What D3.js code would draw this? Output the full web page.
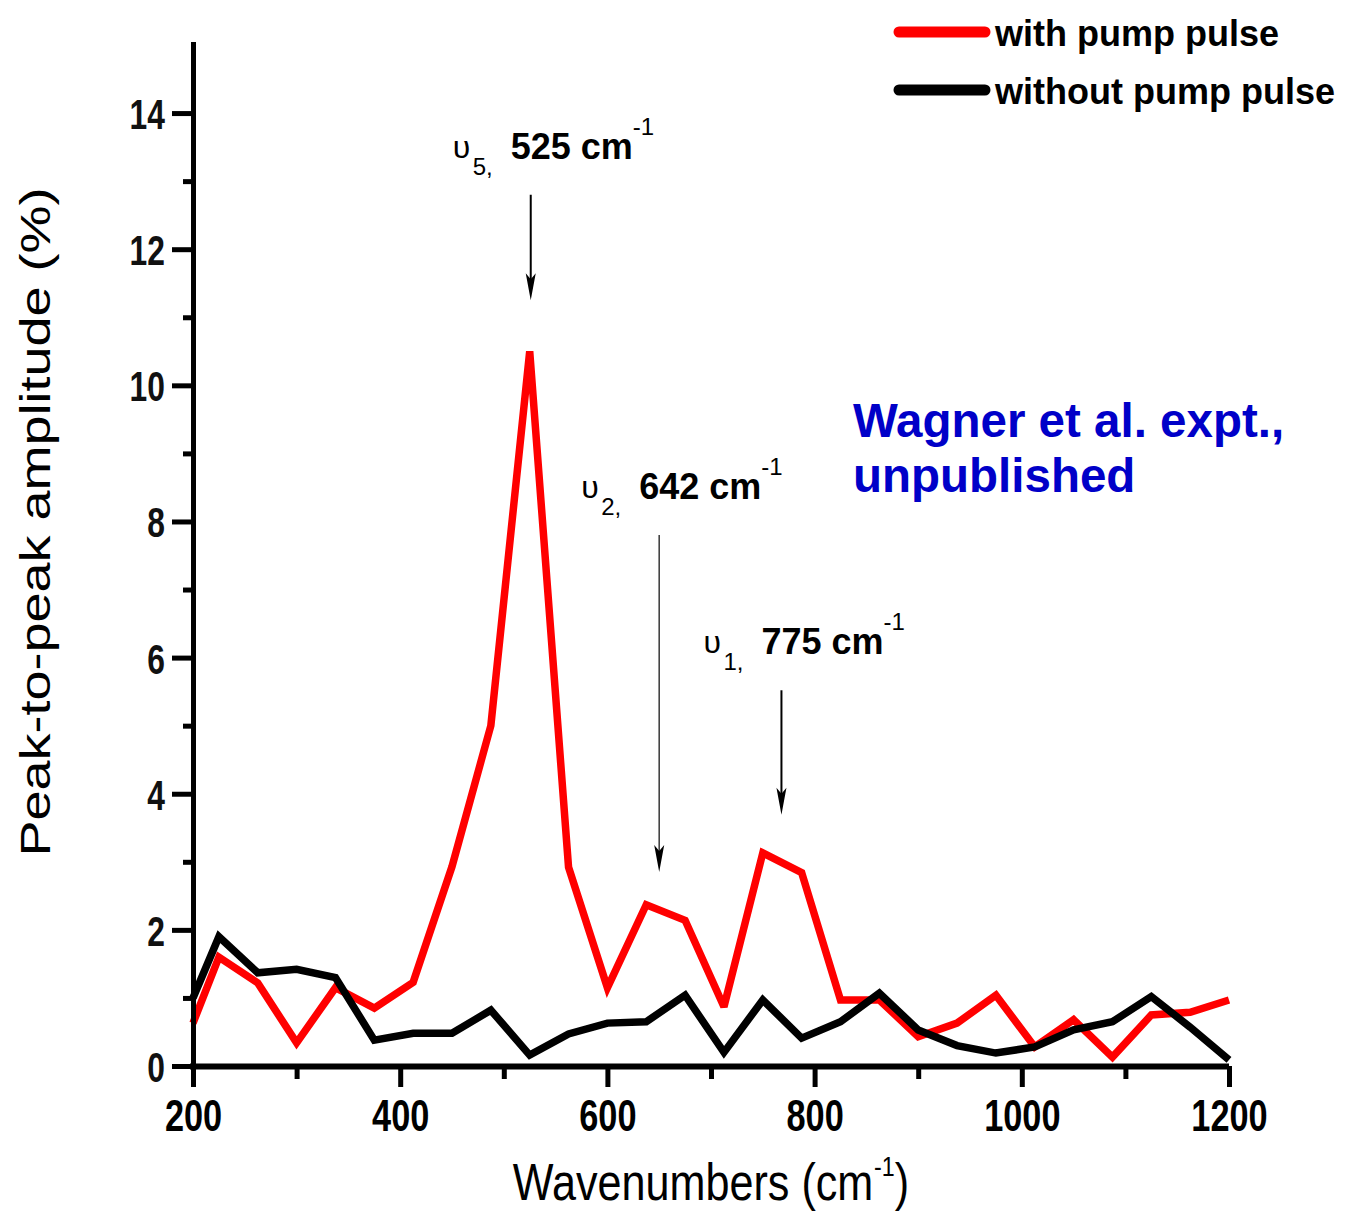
<!DOCTYPE html>
<html>
<head>
<meta charset="utf-8">
<script src="https://cdn.jsdelivr.net/npm/d3@7"></script>
<style>
  html, body { margin: 0; padding: 0; background: #fff; }
  svg { display: block; font-family: "Liberation Sans", Arial, Helvetica, sans-serif; }
</style>
</head>
<body>
<svg id="chart" width="1348" height="1211"></svg>
<script>
// Sampled wavenumbers (cm^-1)
const wavenumbers = [200, 225, 262.5, 300, 337.5, 375, 412.5, 450, 487.5, 525, 562.5, 600,
  637.5, 675, 712.5, 750, 787.5, 825, 862.5, 900, 937.5, 975, 1012.5, 1050, 1087.5, 1125, 1162.5, 1200];

// Peak-to-peak amplitude (%)
const withPump = [0.63, 1.6, 1.22, 0.34, 1.15, 0.85, 1.23, 2.93, 5.0, 10.5, 2.92, 1.15,
  2.37, 2.14, 0.87, 3.13, 2.84, 0.97, 0.97, 0.43, 0.63, 1.04, 0.28, 0.68, 0.13, 0.75, 0.79, 0.97];
const withoutPump = [1.0, 1.9, 1.37, 1.42, 1.3, 0.38, 0.48, 0.48, 0.82, 0.16, 0.47, 0.63,
  0.65, 1.04, 0.2, 0.97, 0.41, 0.65, 1.07, 0.53, 0.3, 0.19, 0.28, 0.53, 0.65, 1.02, 0.57, 0.09];

const seriesNames = ["with pump pulse", "without pump pulse"];

// Axis ticks
const xMajorTicks = [200, 400, 600, 800, 1000, 1200];
const xMinorTicks = [300, 500, 700, 900, 1100];
const yMajorTicks = [0, 2, 4, 6, 8, 10, 12, 14];
const yMinorTicks = [1, 3, 5, 7, 9, 11, 13];

// Vibrational mode annotations: index, labelled frequency, arrow position, arrow tail/tip (amplitude units)
const modeIndex = ["5", "2", "1"];
const modeFreq = ["525", "642", "775"];
const modeArrowAt = [526, 650, 768];
const modeArrowTail = [12.8, 7.8, 5.52];
const modeArrowTip = [11.25, 2.85, 3.69];

const noteLines = ["Wagner et al. expt.,", "unpublished"];

const svg = d3.select("#chart");

const x = d3.scaleLinear().domain([200, 1200]).range([193, 1229]);
const y = d3.scaleLinear().domain([0, 15]).range([1066, 45]);

const FONT = '"Liberation Sans", Arial, Helvetica, sans-serif';

// ---- data lines ----
const line = d3.line()
  .x((d, i) => x(wavenumbers[i]))
  .y(d => y(d));

svg.append("path")
  .datum(withPump)
  .attr("d", line)
  .attr("fill", "none")
  .attr("stroke", "#ff0000")
  .attr("stroke-width", 7.5)
  .attr("stroke-linejoin", "miter")
  .attr("stroke-miterlimit", 3);

svg.append("path")
  .datum(withoutPump)
  .attr("d", line)
  .attr("fill", "none")
  .attr("stroke", "#000")
  .attr("stroke-width", 7.5)
  .attr("stroke-linejoin", "miter")
  .attr("stroke-miterlimit", 3);

// ---- axes ----
function styleAxis(g, width) {
  g.selectAll(".domain").attr("stroke", "#000").attr("stroke-width", width);
  g.selectAll(".tick line").attr("stroke", "#000").attr("stroke-width", 5);
}

// x axis
const gxMinor = svg.append("g")
  .attr("transform", `translate(0,${y(0)})`)
  .call(d3.axisBottom(x).tickValues(xMinorTicks).tickSize(13).tickSizeOuter(0).tickFormat(""));
styleAxis(gxMinor, 6);
gxMinor.select(".domain").remove();

const gx = svg.append("g")
  .attr("transform", `translate(0,${y(0)})`)
  .call(d3.axisBottom(x).tickValues(xMajorTicks).tickSize(21).tickSizeOuter(0).tickFormat(d3.format("d")));
styleAxis(gx, 6);
gx.select(".domain").attr("d", `M${x(200) - 3},0.5H${x(1200)}`);
gx.selectAll(".tick text")
  .attr("font-family", FONT)
  .attr("font-size", 44)
  .attr("font-weight", "bold")
  .attr("fill", "#000")
  .attr("y", 65)
  .attr("dy", null)
  .attr("transform", "scale(0.78,1)");

// y axis
const gyMinor = svg.append("g")
  .attr("transform", `translate(${x(200)},0)`)
  .call(d3.axisLeft(y).tickValues(yMinorTicks).tickSize(10).tickSizeOuter(0).tickFormat(""));
styleAxis(gyMinor, 5);
gyMinor.select(".domain").remove();

const gy = svg.append("g")
  .attr("transform", `translate(${x(200)},0)`)
  .call(d3.axisLeft(y).tickValues(yMajorTicks).tickSize(21).tickSizeOuter(0).tickFormat(d3.format("d")));
styleAxis(gy, 5);
gy.select(".domain").attr("d", `M0.5,${y(15) - 3}V${y(0) + 3}`);
gy.selectAll(".tick text")
  .attr("font-family", FONT)
  .attr("font-size", 43)
  .attr("font-weight", "bold")
  .attr("fill", "#111")
  .attr("x", -28 / 0.74)
  .attr("dy", "0.36em")
  .attr("transform", "scale(0.74,1)");

// axis titles
const xTitle = svg.append("text")
  .attr("transform", `translate(${(x(200) + x(1200)) / 2},1200) scale(0.83,1)`)
  .attr("text-anchor", "middle")
  .attr("font-family", FONT)
  .attr("font-size", 52)
  .attr("fill", "#000");
xTitle.append("tspan").text("Wavenumbers (cm");
xTitle.append("tspan").attr("font-size", 28).attr("dy", -24).attr("dx", 1).text("-1");
xTitle.append("tspan").attr("dy", 24).text(")");

svg.append("text")
  .attr("transform", `translate(50,522) scale(0.78,1) rotate(-90)`)
  .attr("text-anchor", "middle")
  .attr("font-family", FONT)
  .attr("font-size", 54)
  .attr("fill", "#000")
  .text("Peak-to-peak amplitude (%)");

// ---- mode annotations ----
modeIndex.forEach((idx, i) => {
  const ax = x(modeArrowAt[i]);
  const tailY = y(modeArrowTail[i]);
  const tipY = y(modeArrowTip[i]);
  const lx = ax - 20;
  const base = tailY - 36;

  const t = svg.append("text")
    .attr("font-family", FONT)
    .attr("fill", "#000");
  t.append("tspan").attr("x", lx - 58).attr("y", base - 1).attr("font-size", 32).text("υ");
  t.append("tspan").attr("x", lx - 38).attr("y", base + 16).attr("font-size", 24).text(idx + ",");
  t.append("tspan").attr("x", lx).attr("y", base).attr("font-size", 36).attr("font-weight", "bold").text(modeFreq[i] + " cm");
  t.append("tspan").attr("dx", 0).attr("y", base - 24).attr("font-size", 24).text("-1");

  const isLong = (tipY - tailY) > 200;
  svg.append("line")
    .attr("x1", ax).attr("x2", ax)
    .attr("y1", tailY).attr("y2", tipY - 20)
    .attr("stroke", isLong ? "#444" : "#000")
    .attr("stroke-width", isLong ? 1.6 : 2);
  svg.append("path")
    .attr("d", `M${ax},${tipY} L${ax - 5},${tipY - 27} L${ax},${tipY - 21} L${ax + 5},${tipY - 27} Z`)
    .attr("fill", "#000");
});

// ---- legend ----
const legendColors = ["#ff0000", "#000000"];
const legendY = [32, 90];
seriesNames.forEach((name, i) => {
  svg.append("line")
    .attr("x1", 899).attr("x2", 985)
    .attr("y1", legendY[i]).attr("y2", legendY[i])
    .attr("stroke", legendColors[i])
    .attr("stroke-width", 11)
    .attr("stroke-linecap", "round");
  svg.append("text")
    .attr("x", 995)
    .attr("y", legendY[i] + 14)
    .attr("font-family", FONT)
    .attr("font-size", 36)
    .attr("font-weight", "bold")
    .attr("fill", "#000")
    .text(name);
});

// ---- source note ----
noteLines.forEach((s, i) => {
  svg.append("text")
    .attr("x", 853)
    .attr("y", 437 + i * 55)
    .attr("font-family", FONT)
    .attr("font-size", 47.5)
    .attr("font-weight", "bold")
    .attr("fill", "#0000c8")
    .text(s);
});
</script>
</body>
</html>
